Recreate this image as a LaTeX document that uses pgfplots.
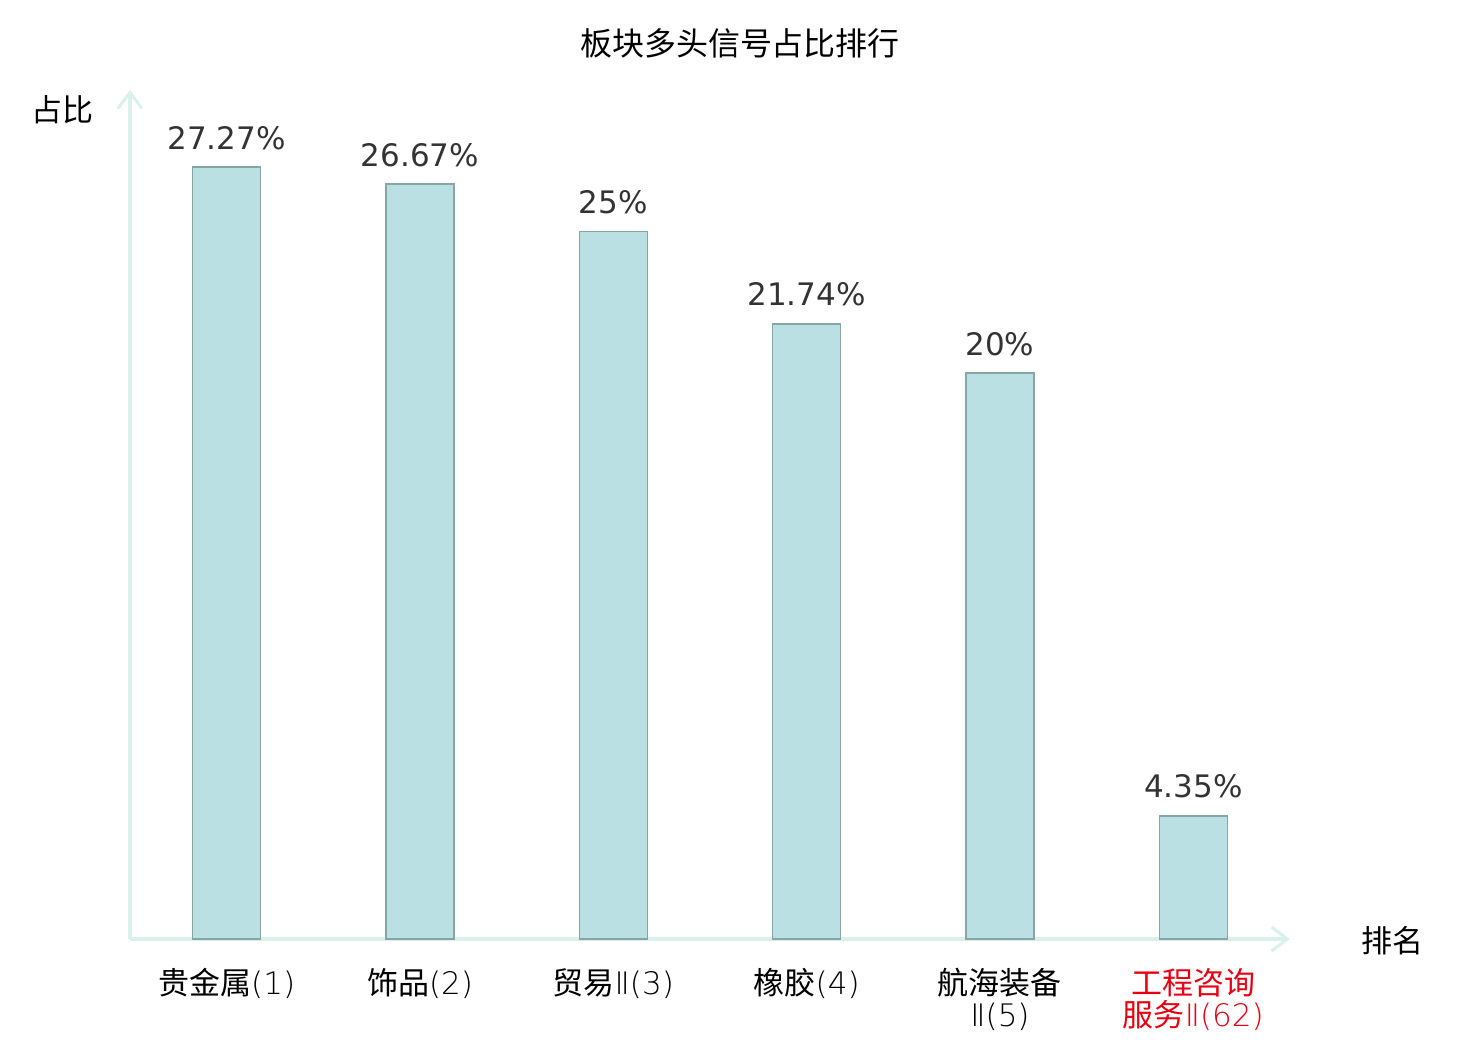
\documentclass[border=0pt]{standalone}
\usepackage{fontspec}
\setmainfont{DejaVu Sans}
\newfontfamily\cjk{Noto Sans CJK SC}
\newfontfamily\djl{DejaVu Sans ExtraLight}
\newcommand{\LT}[1]{{\djl #1}}
\usepackage{pgfplots}
\usepackage{pgfplotstable}
\pgfplotsset{compat=1.18}
\usetikzlibrary{arrows.meta}
\definecolor{barfill}{RGB}{187,224,227}
\definecolor{baredge}{RGB}{135,165,165}
\definecolor{axcol}{RGB}{218,240,236}
\definecolor{lblred}{RGB}{230,0,18}
\definecolor{valcol}{RGB}{51,51,51}

\pgfplotstableread{
x y lab
0 27.27 27.27
1 26.67 26.67
2 25 25
3 21.74 21.74
4 20 20
5 4.35 4.35
}\datatable

\begin{document}
\begin{tikzpicture}
\useasboundingbox (-65pt,-50.5pt) rectangle (675pt,469.5pt);
\begin{axis}[
  at={(0,0)}, anchor=south west,
  scale only axis, width=580pt, height=424.5pt,
  axis lines=left,
  axis line style={draw=axcol, line width=1.6pt, -{Straight Barb[length=8pt,width=12pt,line width=1.5pt]}},
  xmin=-0.5, xmax=5.5, ymin=0, ymax=30,
  xtick={0,1,2,3,4,5}, ytick=\empty, major tick length=0pt,
  xticklabels={贵金属\LT{(1)}, 饰品\LT{(2)}, 贸易\LT{Ⅱ(3)}, 橡胶\LT{(4)}, {航海装备\\\LT{Ⅱ(5)}}, {\textcolor{lblred}{工程咨询}\\\textcolor{lblred}{服务\LT{Ⅱ(62)}}}},
  xticklabel style={font=\cjk\fontsize{15.5pt}{16pt}\selectfont, align=center, inner sep=0pt, yshift=-14.5pt},
  ybar, bar width=34pt,
  nodes near coords={\pgfplotspointmeta\%},
  point meta=explicit symbolic,
  nodes near coords style={font=\fontsize{15.5pt}{18pt}\selectfont, text=valcol, anchor=base, yshift=9pt},
  clip=false,
]
\addplot[fill=barfill, draw=baredge, line width=0.8pt] table[x=x, y=y, meta=lab] {\datatable};
\end{axis}
\node[font=\cjk\fontsize{16pt}{18pt}\selectfont] at (305pt,448pt) {板块多头信号占比排行};
\node[font=\cjk\fontsize{15.5pt}{18pt}\selectfont] at (-33.5pt,414.5pt) {占比};
\node[font=\cjk\fontsize{15.5pt}{18pt}\selectfont] at (631pt,-1pt) {排名};
\end{tikzpicture}
\end{document}
